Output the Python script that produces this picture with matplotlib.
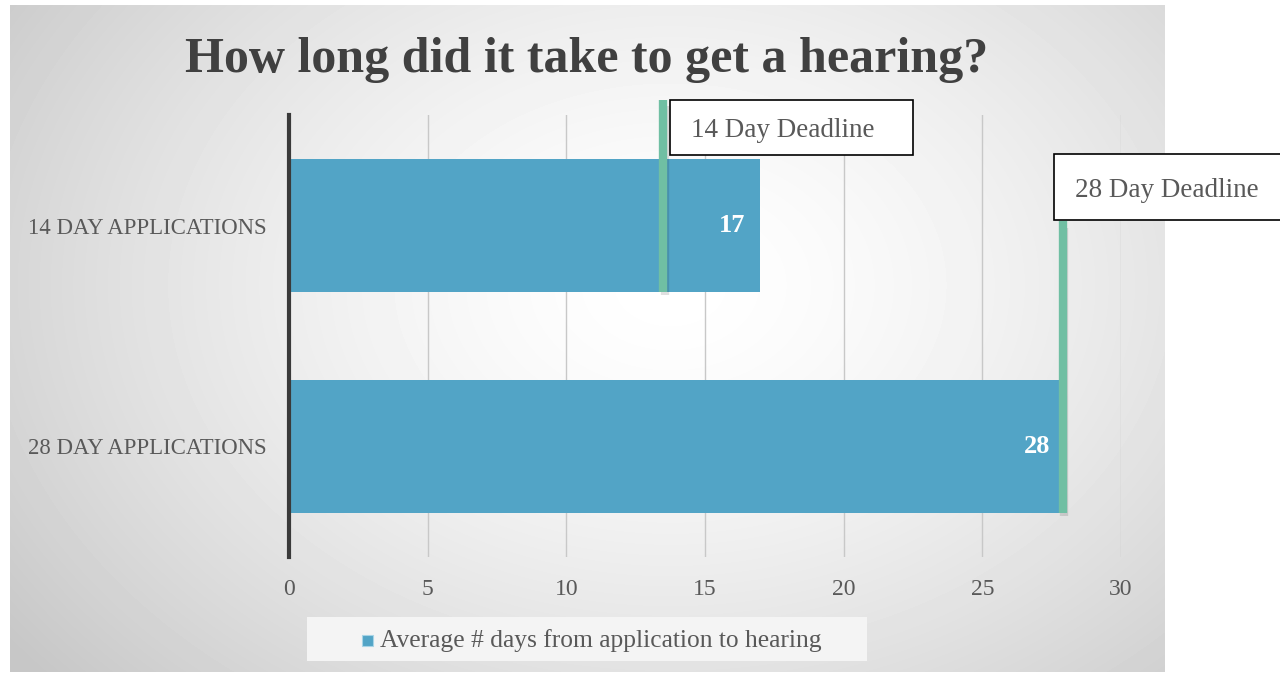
import numpy as np
import matplotlib
matplotlib.use("Agg")
from matplotlib import pyplot as plt
from matplotlib.patches import Rectangle

# data
categories = ['14 DAY APPLICATIONS', '28 DAY APPLICATIONS']
avg_days = [17, 28]
deadline_labels = ['14 Day Deadline', '28 Day Deadline']
deadline_pos = [13.5, 27.9]
series_name = 'Average # days from application to hearing'
xticks = [0, 5, 10, 15, 20, 25, 30]

bar_color = '#52a4c6'
line_color = '#70bfa3'
text_color = '#595959'
serif = ['Liberation Serif', 'DejaVu Serif']
plt.rcParams['font.family'] = serif

W, H = 1280, 674
fig = plt.figure(figsize=(W / 100, H / 100), dpi=100)
fig.patch.set_facecolor('white')

# radial gradient background of the chart area
bg = fig.add_axes([10 / W, 1 - 672 / H, 1155 / W, 667 / H])
bg.set_axis_off()
yy, xx = np.mgrid[0:667, 0:1155]
d = np.sqrt(((xx - 660) / 820.0) ** 2 + ((yy - 280) / 600.0) ** 2)
shade = 1.0 - 0.22 * np.clip(d, 0, 1) ** 1.5
bg.imshow(shade, cmap='gray', vmin=0, vmax=1, aspect='auto', interpolation='bilinear')

ax = fig.add_axes([289 / W, 1 - 557 / H, 832 / W, 442 / H])
ax.patch.set_alpha(0)
y = np.arange(len(categories))
ax.barh(y, avg_days, height=0.6, color=bar_color, zorder=2)
ax.set_xlim(0, 30)
ax.set_ylim(1.5, -0.5)
ax.set_xticks(xticks)
ax.set_yticks(y, categories)
ax.tick_params(length=0, labelsize=17, colors=text_color)
ax.tick_params(axis='y', labelsize=16.4, pad=16)
ax.tick_params(axis='x', pad=16)
ax.grid(axis='x', color='#c8c8c8', linewidth=1, zorder=1)
for s in ['top', 'right', 'bottom']:
    ax.spines[s].set_visible(False)
ax.spines['left'].set_color('#3a3a3a')
ax.spines['left'].set_linewidth(3)
ax.spines['left'].set_zorder(4)

for yi, v in zip(y, avg_days):
    ax.text(v - 0.55, yi, str(v), ha='right', va='center', color='white',
            fontsize=19, fontweight='bold', zorder=5)

# deadline markers
line_spans = [(-0.57, 0.30), (-0.02, 1.30)]
for xp, (y0, y1) in zip(deadline_pos, line_spans):
    ax.plot([xp + 0.05, xp + 0.05], [y0 + 0.03, y1 + 0.015], color='#000000', alpha=0.12,
            linewidth=6, solid_capstyle='butt', zorder=5, clip_on=False)
    ax.plot([xp, xp], [y0, y1], color=line_color, linewidth=6,
            solid_capstyle='butt', zorder=6, clip_on=False)

# callout boxes
boxes = [(670, 100, 243, 55), (1054, 154, 240, 66)]
for (bx, by, bw, bh), lab in zip(boxes, deadline_labels):
    fig.patches.append(Rectangle((bx / W, 1 - (by + bh) / H), bw / W, bh / H,
                                 transform=fig.transFigure, facecolor='white',
                                 edgecolor='black', linewidth=1.2, zorder=10))
    fig.text((bx + 21) / W, 1 - (by + bh / 2 + 3) / H, lab, ha='left', va='center',
             fontsize=19.5, color=text_color, zorder=11)

# legend
fig.patches.append(Rectangle((307 / W, 1 - 661 / H), 560 / W, 44 / H,
                             transform=fig.transFigure, facecolor='#f4f4f4',
                             edgecolor='none', zorder=1))
fig.patches.append(Rectangle((362 / W, 1 - 646 / H), 11 / W, 11 / H,
                             transform=fig.transFigure, facecolor=bar_color,
                             edgecolor='#a8d4e6', linewidth=0.8, zorder=2))
fig.text(380 / W, 1 - 641 / H, series_name, ha='left', va='center',
         fontsize=18.4, color=text_color)

fig.text(587 / W, 1 - 60 / H, 'How long did it take to get a hearing?', ha='center',
         va='center', fontsize=36, fontweight='bold', color='#404040')

fig.savefig('out.png', dpi=100)
